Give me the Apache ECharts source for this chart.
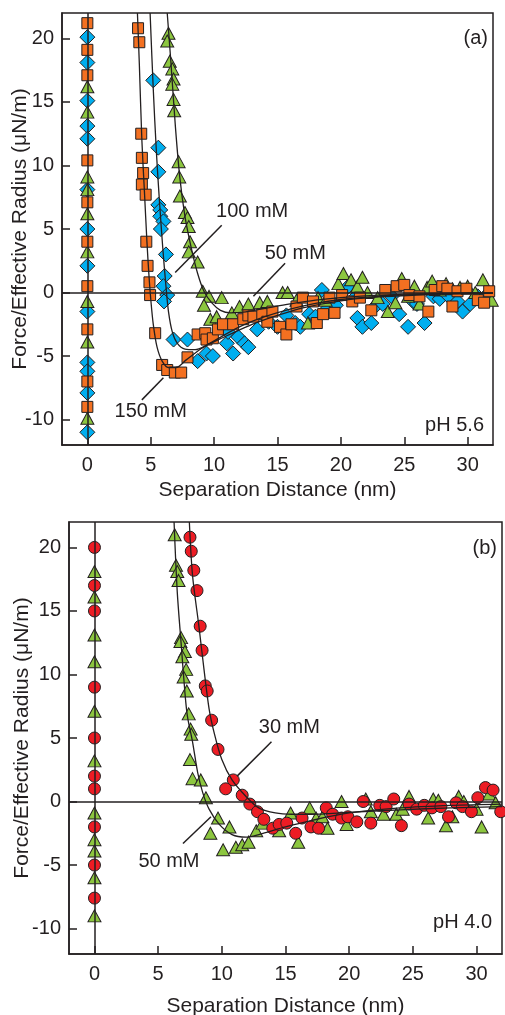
<!DOCTYPE html>
<html><head><meta charset="utf-8">
<script src="https://cdn.jsdelivr.net/npm/echarts@6/dist/echarts.min.js"></script>
<style>html,body{margin:0;padding:0;background:#fff}#c{width:505px;height:1015px}</style>
</head><body><div id="c"></div>
<script>
// ---------- tick labels ----------
const xTicks = [0, 5, 10, 15, 20, 25, 30];
const yTicks = [-10, -5, 0, 5, 10, 15, 20];
const xTitle = 'Separation Distance (nm)';
const yTitle = 'Force/Effective Radius (\u03bcN/m)';

// ---------- panel (a), pH 5.6 ----------
const a150 = [[0,21.2],[0,19.1],[0,17.1],[0,10.4],[0,7.1],[0,4.0],[0,0.5],[0,-2.9],[0,-7.0],[0,-9.0],
  [4.0,20.8],[4.1,19.7],[4.25,12.5],[4.3,10.6],[4.4,9.4],[4.3,8.5],[4.6,7.7],[4.65,4.0],[4.75,2.1],[4.9,0.8],[4.95,-0.2],
  [5.35,-3.2],[5.9,-5.7],[6.3,-6.1],[6.9,-6.3],[7.4,-6.3],[7.9,-5.1],[8.7,-3.3],[9.3,-3.2],[9.4,-3.7],[9.9,-3.6],[10.3,-2.9],
  [10.7,-2.5],[11.5,-2.5],[12.3,-2.1],[12.7,-1.8],[13.1,-1.9],[13.8,-1.7],[14.2,-2.3],[14.6,-1.5],[15.2,-2.7],[15.7,-3.3],[16.1,-2.5],
  [16.5,-1.1],[17.0,-0.4],[17.8,-0.7],[18.1,-2.4],[18.6,-1.7],[19.1,-0.4],[19.5,-1.6],[20.1,-0.2],[20.9,-0.7],[21.5,-0.4],
  [22.4,-1.4],[23.5,0.2],[24.4,0.5],[25.0,0.6],[25.4,-0.2],[26.2,-0.3],[26.9,-1.5],[27.4,0.2],[28.0,0.5],[28.4,0.3],
  [28.8,-1.1],[29.2,0.1],[29.9,0.3],[30.8,-0.6],[31.3,-0.8],[31.7,0.1]];
const a100 = [[0,20.1],[0,18.1],[0,15.1],[0,13.1],[0,12.1],[0,8.1],[0,5.0],[0,2.1],[0,-1.5],[0,-5.5],[0,-6.2],[0,-7.9],[0,-11.0],
  [5.2,16.7],[5.6,11.4],[5.6,9.5],[5.6,6.9],[5.75,6.5],[5.75,6.0],[6.0,5.6],[5.8,5.0],[6.2,3.0],[6.1,1.3],[6.0,0.5],[6.3,-0.2],[6.05,-0.7],
  [6.8,-3.7],[7.9,-3.7],[8.7,-5.4],[9.4,-4.8],[9.9,-5.0],[11.0,-4.0],[11.5,-4.8],[11.1,-3.1],[11.9,-3.5],[12.4,-4.0],[12.7,-4.3],
  [13.4,-2.9],[14.3,-2.3],[15.0,-2.7],[15.7,-1.8],[16.4,-2.4],[16.8,-2.7],[17.5,-1.7],[18.0,-1.9],[18.5,0.2],[18.9,-1.3],
  [19.6,-1.0],[20.5,0.4],[21.0,-0.5],[21.3,-2.0],[21.7,-2.7],[22.4,-2.4],[22.8,-1.0],[23.3,-0.9],[24.0,-0.3],[24.6,-1.7],
  [25.3,-2.7],[25.7,-0.7],[26.0,-0.9],[26.6,-2.4],[27.3,-0.3],[27.8,-0.5],[28.5,-0.3],[29.2,-0.7],[29.6,-1.5],[30.2,-0.9],
  [30.8,-0.3],[31.5,-0.2]];
const a50 = [[0,16.2],[0,14.2],[0,9.1],[0,8.1],[0,6.2],[0,3.2],[0,-0.7],[0,-3.9],[0,-9.9],
  [6.4,20.4],[6.3,19.8],[6.5,18.2],[6.7,17.6],[6.8,16.8],[6.7,16.4],[6.8,15.2],[6.85,14.3],[7.2,10.3],[7.25,9.1],[7.3,7.6],
  [7.7,6.3],[7.9,5.9],[8.0,5.2],[8.1,4.0],[8.0,3.2],[8.7,2.4],[9.1,0.1],[9.6,-0.3],[9.2,-1.0],[9.7,-2.1],[10.2,-1.9],
  [10.6,-0.4],[11.4,-1.6],[12.0,-1.1],[12.7,-0.9],[13.6,-0.8],[14.2,-0.7],[15.4,0.0],[15.8,0.0],[16.5,-0.6],[17.4,-2.4],
  [18.2,-0.4],[18.8,-0.6],[19.8,0.7],[20.2,1.5],[20.8,1.0],[21.3,0.5],[21.7,1.2],[22.1,0.0],[22.9,-0.4],[23.7,-1.5],
  [24.3,-0.8],[24.8,1.1],[25.3,-0.3],[25.8,0.5],[26.2,-0.9],[26.8,0.4],[27.2,0.9],[27.8,0.2],[28.3,0.7],[28.8,0.3],
  [29.4,0.4],[30.0,0.5],[30.6,0.0],[31.2,1.0],[31.9,-0.6]];
const a150Fit = [[3.95,22],[4.1,18],[4.3,12],[4.5,8],[4.7,4],[4.85,1.5],[5.0,-0.5],[5.2,-2.5],[5.5,-4.3],[5.9,-5.4],[6.4,-5.9],
  [7.0,-5.9],[7.8,-5.3],[9,-4.4],[10,-3.8],[12,-2.7],[14,-1.9],[16,-1.3],[18,-0.85],[20,-0.55],[23,-0.3],[26,-0.15],[29,-0.08],[32,-0.04]];
const a100Fit = [[4.95,22],[5.2,16],[5.45,11],[5.7,7],[5.95,3.5],[6.2,0.5],[6.4,-1.5],[6.7,-3.1],[7.1,-4.0],[7.7,-4.45],
  [8.5,-4.5],[9.5,-4.1],[11,-3.4],[13,-2.5],[15,-1.8],[17,-1.2],[20,-0.65],[23,-0.35],[26,-0.2],[29,-0.1],[32,-0.05]];
const a50Fit = [[6.3,22],[6.6,18],[6.95,13],[7.3,9],[7.7,6],[8.2,3.5],[8.7,1.5],[9.2,0.1],[9.8,-0.8],[10.5,-1.4],[11.3,-1.6],
  [12.3,-1.55],[14,-1.25],[16,-0.9],[18,-0.6],[20,-0.4],[23,-0.2],[26,-0.1],[29,-0.05],[32,-0.02]];

// ---------- panel (b), pH 4.0 ----------
const b30 = [[0,20],[0,17],[0,15],[0,9],[0,5],[0,2],[0,1],[0,-2],[0,-5],[0,-7.6],
  [7.5,20.8],[7.6,19.7],[7.8,18.2],[8.05,16.6],[8.3,13.8],[8.45,11.9],[8.7,9.1],[8.85,8.7],[9.2,6.4],[9.7,4.1],[10.9,1.7],
  [10.3,1.0],[11.6,0.5],[12.2,-0.2],[12.8,-0.8],[13.3,-1.4],[14.0,-2.1],[14.5,-1.8],[15.1,-1.7],[15.8,-2.5],[16.3,-1.3],
  [17.0,-2.0],[17.6,-2.1],[18.2,-0.5],[18.7,-1.0],[19.4,-1.3],[19.9,-1.2],[20.6,-1.6],[21.1,0.0],[21.7,-1.7],[22.4,-0.3],
  [22.9,-0.4],[23.5,0.2],[24.1,-1.9],[24.7,-0.2],[25.3,-0.6],[25.9,-0.3],[26.5,-0.5],[27.2,-0.4],[27.8,-1.2],[28.4,-0.1],
  [28.9,-0.4],[29.6,-0.8],[30.1,0.3],[30.7,1.1],[31.3,0.9],[31.9,-0.8]];
const b50 = [[0,18.1],[0,16.1],[0,13.1],[0,11],[0,7.1],[0,3.2],[0,-0.9],[0,-3],[0,-3.9],[0,-6],[0,-9],
  [6.3,21.0],[6.4,18.6],[6.5,18.1],[6.6,17.4],[6.8,12.9],[6.75,12.6],[7.1,11.8],[6.9,11.4],[7.2,10.4],[7.0,9.8],[7.25,8.7],
  [7.4,6.9],[7.55,5.7],[7.6,5.3],[7.5,3.3],[7.7,1.8],[8.35,1.7],[8.75,0.3],[9.7,-1.3],[10.6,-2.0],[9.1,-2.5],[10.1,-3.8],
  [11.1,-3.6],[11.6,-3.4],[12.1,-3.2],[12.7,-2.3],[13.2,-1.7],[14.5,-2.3],[15.4,-0.9],[16.0,-3.2],[16.9,-0.5],[17.4,-1.3],
  [17.9,-1.2],[18.3,-2.1],[19.4,0.0],[19.8,-1.8],[21.3,0.2],[21.7,-0.8],[22.7,-1.0],[23.7,-1.0],[24.2,-0.6],[24.7,0.4],
  [26.2,-1.3],[26.6,0.2],[27.0,0.1],[27.6,-1.9],[28.1,-1.2],[28.6,0.4],[29.0,0.0],[30.0,-0.6],[30.4,-2.0],[31.0,0.6],[31.5,-0.1]];
const b30Fit = [[7.45,22],[7.7,17.8],[8.2,13.8],[8.6,10.4],[9.0,7.3],[9.4,5.4],[10.0,3.3],[10.8,1.7],[11.9,0.4],[12.9,-0.5],
  [14.2,-0.9],[15.5,-1.0],[17,-1.0],[20,-0.85],[24,-0.65],[28,-0.5],[32,-0.4]];
const b50Fit = [[6.25,22],[6.5,16.5],[6.8,12.5],[7.1,8.6],[7.3,6.7],[7.7,4.7],[8.1,2.3],[8.5,0.7],[9.0,-0.6],[9.8,-1.8],
  [10.8,-2.6],[11.9,-2.8],[12.9,-2.6],[15,-2.0],[17,-1.5],[20,-0.9],[24,-0.5],[28,-0.3],[32,-0.2]];

// ---------- annotations (data coordinates) ----------
const annA = [{t:'100 mM', at:[13.0,6.4], from:[10.6,5.3], to:[6.93,1.58]},
              {t:'50 mM',  at:[16.4,3.1], from:[15.6,2.3], to:[13.1,-0.3]},
              {t:'150 mM', at:[5.0,-9.4], from:[6.0,-6.7], to:[4.3,-8.45]}];
const annB = [{t:'30 mM', at:[15.3,5.8], from:[13.9,4.7], to:[11.2,2.0]},
              {t:'50 mM', at:[5.85,-4.7], from:[6.95,-3.3], to:[9.15,-1.2]}];

const INK = '#231f20';
const FONT = 'Liberation Sans, Arial, sans-serif';
const C = {orange:'#f37021', blue:'#00aeef', green:'#8cc63f', red:'#ed1c24'};

function xAx(g, gap){
  return {gridIndex:g, type:'value', min:-2, max:32,
    axisLine:{show:true, onZero:false, lineStyle:{color:INK, width:1.5}},
    axisTick:{show:true, inside:true, length:8, customValues:xTicks, lineStyle:{color:INK, width:1.5}},
    axisLabel:{customValues:xTicks, color:INK, fontSize:20, fontFamily:FONT, margin:10},
    splitLine:{show:false},
    name:xTitle, nameLocation:'middle', nameGap:gap, nameMoveOverlap:false,
    nameTextStyle:{color:INK, fontSize:21, fontFamily:FONT}};
}
function yAx(g, gap){
  return {gridIndex:g, type:'value', min:-12, max:22,
    axisLine:{show:true, onZero:false, lineStyle:{color:INK, width:1.5}},
    axisTick:{show:true, inside:true, length:8, customValues:yTicks, lineStyle:{color:INK, width:1.5}},
    axisLabel:{customValues:yTicks, color:INK, fontSize:20, fontFamily:FONT, margin:8},
    splitLine:{show:false},
    name:yTitle, nameLocation:'middle', nameGap:gap, nameMoveOverlap:false,
    nameTextStyle:{color:INK, fontSize:21, fontFamily:FONT}};
}
function scat(g, data, symbol, size, color){
  return {type:'scatter', xAxisIndex:g, yAxisIndex:g, data:data, symbol:symbol, symbolSize:size,
    itemStyle:{color:color, borderColor:INK, borderWidth:1, opacity:1}, z:3, animation:false, silent:true};
}
function fit(g, data){
  return {type:'line', xAxisIndex:g, yAxisIndex:g, data:data, smooth:0.3, showSymbol:false, symbol:'none',
    lineStyle:{color:INK, width:1.3}, z:4, animation:false, silent:true};
}
function refLines(g, ann){
  const md = [{xAxis:0},{yAxis:0}];
  ann.forEach(a => md.push([{coord:a.from},{coord:a.to}]));
  return {type:'line', xAxisIndex:g, yAxisIndex:g, data:[], z:2, animation:false, silent:true,
    markLine:{symbol:['none','none'], silent:true, animation:false, label:{show:false},
      lineStyle:{color:INK, width:1.5, type:'solid'}, emphasis:{disabled:true}, data:md}};
}

const chart = echarts.init(document.getElementById('c'), null, {renderer:'canvas'});
chart.setOption({
  backgroundColor:'#fff',
  animation:false,
  grid:[{left:62, top:13, width:431, height:432, show:true, borderColor:INK, borderWidth:1.5, containLabel:false, outerBoundsMode:'none'},
        {left:69, top:522, width:433, height:432, show:true, borderColor:INK, borderWidth:1.5, containLabel:false, outerBoundsMode:'none'}],
  xAxis:[xAx(0,35), xAx(1,42)],
  yAxis:[yAx(0,31), yAx(1,36)],
  series:[
    refLines(0, annA),
    scat(0, a100, 'diamond', 15, C.blue),
    scat(0, a50, 'triangle', [13,12], C.green),
    scat(0, a150, 'rect', 11, C.orange),
    fit(0, a150Fit), fit(0, a100Fit), fit(0, a50Fit),
    refLines(1, annB),
    scat(1, b50, 'triangle', [13,12], C.green),
    scat(1, b30, 'circle', 12, C.red),
    fit(1, b30Fit), fit(1, b50Fit)
  ]
});

function addTexts(){
  const els = [];
  function txt(x, y, s, align){
    els.push({type:'text', x:x, y:y, z:10, style:{text:s, fill:INK, font:'20px ' + FONT, align:align||'center', verticalAlign:'middle'}});
  }
  annA.forEach(a => { const p = chart.convertToPixel({gridIndex:0}, a.at); txt(p[0], p[1], a.t); });
  annB.forEach(a => { const p = chart.convertToPixel({gridIndex:1}, a.at); txt(p[0], p[1], a.t); });
  txt(488, 38, '(a)', 'right');
  txt(484, 425, 'pH 5.6', 'right');
  txt(497, 548, '(b)', 'right');
  txt(492, 922, 'pH 4.0', 'right');
  chart.setOption({graphic:els});
}
addTexts();
</script>
</body></html>
